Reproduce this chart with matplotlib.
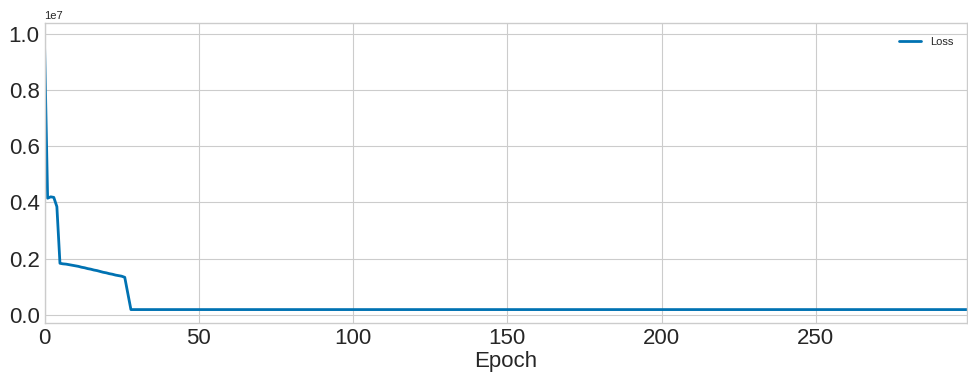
import numpy as np
import pandas as pd
import matplotlib.pyplot as plt

plt.style.use('seaborn-v0_8-whitegrid')

# loss per epoch (in units of 1e7)
loss_head = [0.965, 0.415, 0.420, 0.418, 0.385, 0.183,
             0.181, 0.180, 0.178, 0.176, 0.174, 0.172, 0.169, 0.167, 0.164,
             0.162, 0.159, 0.157, 0.154, 0.151, 0.149, 0.146, 0.144, 0.141,
             0.139, 0.137, 0.133, 0.075]
loss_tail_value = 0.018
n_epochs = 300

loss = np.array(loss_head + [loss_tail_value] * (n_epochs - len(loss_head))) * 1e7
df = pd.DataFrame({'Loss': loss})
df.index.name = 'Epoch'

fig, ax = plt.subplots(figsize=(9.68, 3.74), dpi=100)
fig.subplots_adjust(left=0.046, right=0.999, top=0.938, bottom=0.137)

df.plot(ax=ax, color='#0072B2', linewidth=2)
ax.set_xlim(0, n_epochs - 1)
ax.set_ylim(-0.029e7, 1.039e7)
ax.set_xlabel('Epoch', fontsize=16, color='.15', labelpad=2)
ax.tick_params(labelsize=16, colors='.15')
ax.yaxis.get_offset_text().set_fontsize(8)
ax.legend(loc='upper right', fontsize=8, borderaxespad=0.8)

fig.savefig('out.png')
